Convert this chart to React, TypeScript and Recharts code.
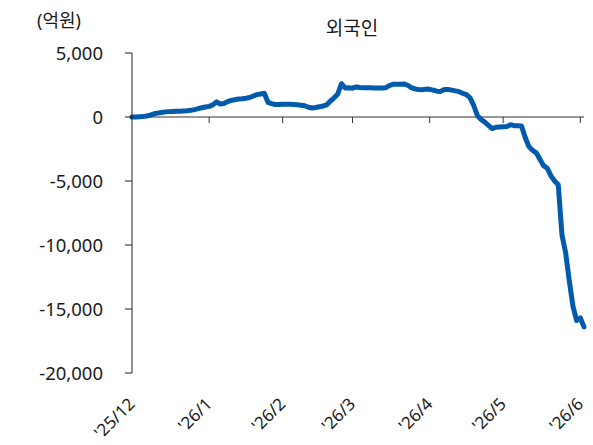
import React from "react";
import { LineChart, Line, XAxis, YAxis, ReferenceLine } from "recharts";

// 외국인 누적 순매수 (억원), trading-day index
const values: number[] = [
  0, 0, 20, 30, 80, 150, 250, 300, 350, 400,
  420, 430, 440, 450, 470, 490, 520, 580, 650, 720,
  780, 830, 950, 1180, 1020, 1050, 1200, 1300, 1350, 1400,
  1430, 1470, 1520, 1640, 1750, 1800, 1850, 1150, 1050, 980,
  980, 1000, 990, 1000, 980, 960, 920, 880, 760, 700,
  740, 800, 860, 950, 1250, 1500, 1800, 2600, 2270, 2280,
  2250, 2350, 2300, 2290, 2280, 2280, 2270, 2260, 2260, 2280,
  2450, 2550, 2560, 2560, 2580, 2480, 2300, 2200, 2150, 2130,
  2180, 2160, 2100, 2020, 2000, 2150, 2150, 2100, 2040, 1980,
  1850, 1750, 1500, 900, 100, -200, -400, -650, -900, -800,
  -780, -760, -750, -600, -680, -680, -700, -1600, -2300, -2600,
  -2800, -3300, -3800, -4000, -4600, -5000, -5300, -9200, -10600, -12800,
  -14800, -15900, -15700, -16400,
];

const monthStarts = [0, 21, 41, 60, 81, 101, 122];
const monthLabels = ["'25/12", "'26/1", "'26/2", "'26/3", "'26/4", "'26/5", "'26/6"];
const yTicks = [-20000, -15000, -10000, -5000, 0, 5000];

const data = values.map((v, i) => ({ i, v }));

const FONT = "'Noto Sans', 'Noto Sans CJK KR', sans-serif";
const TEXT = "#1a1a1a";

const MonthTick = (props: any) => {
  const { x, y, payload } = props;
  const idx = monthStarts.indexOf(payload.value);
  const tx = x + 4;
  const ty = y + 24;
  return (
    <text
      x={tx}
      y={ty}
      transform={`rotate(-45, ${tx}, ${ty})`}
      textAnchor="end"
      fontSize={17}
      fontFamily={FONT}
      fill={TEXT}
    >
      {monthLabels[idx]}
    </text>
  );
};

export default function App() {
  return (
    <div style={{ position: "absolute", left: 0, top: 0, width: 593, height: 445, background: "#fff" }}>
      <div
        style={{
          position: "absolute",
          left: 37,
          top: 8,
          fontSize: 18,
          fontFamily: FONT,
          color: TEXT,
          lineHeight: "24px",
        }}
      >
        (억원)
      </div>
      <div
        style={{
          position: "absolute",
          left: 252,
          width: 200,
          top: 15,
          textAlign: "center",
          fontSize: 19,
          fontFamily: FONT,
          color: TEXT,
          lineHeight: "26px",
        }}
      >
        외국인
      </div>
      <LineChart width={593} height={445} data={data} margin={{ top: 53, right: 9, left: 0, bottom: 0 }}>
        <XAxis
          dataKey="i"
          type="number"
          domain={[0, 123]}
          ticks={monthStarts}
          interval={0}
          axisLine={false}
          tickLine={false}
          height={72}
          tick={<MonthTick />}
        />
        <YAxis
          type="number"
          domain={[-20000, 5000]}
          ticks={yTicks}
          interval={0}
          width={132}
          tickSize={7}
          tickMargin={22}
          axisLine={{ stroke: "#222", strokeWidth: 1 }}
          tickLine={{ stroke: "#222", strokeWidth: 1 }}
          tick={{ fontSize: 18.5, fontFamily: FONT, fill: TEXT }}
          tickFormatter={(v: number) => v.toLocaleString("en-US")}
        />
        <ReferenceLine y={0} stroke="#333" strokeWidth={1} />
        {monthStarts.slice(1).map((m) => (
          <ReferenceLine
            key={m}
            segment={[
              { x: m, y: 0 },
              { x: m, y: -470 },
            ]}
            stroke="#333"
            strokeWidth={1}
          />
        ))}
        <Line
          type="linear"
          dataKey="v"
          stroke="#005bac"
          strokeWidth={5}
          dot={false}
          isAnimationActive={false}
          strokeLinejoin="round"
          strokeLinecap="round"
        />
      </LineChart>
    </div>
  );
}
